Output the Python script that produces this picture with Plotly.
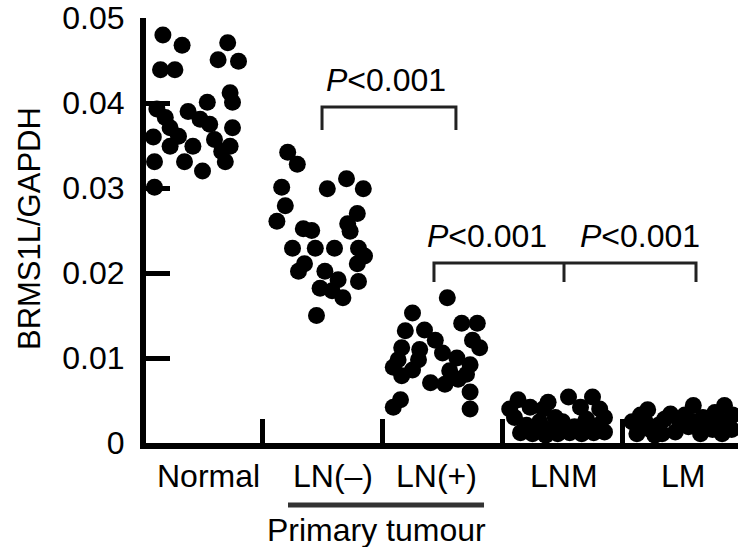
import plotly.graph_objects as go

# ---------------- data ----------------
categories = ["Normal", "LN(–)", "LN(+)", "LNM", "LM"]

normal_vals = [0.0480, 0.0468, 0.0471, 0.0451, 0.0449, 0.0439, 0.0439, 0.0412, 0.0401, 0.0401,
               0.0393, 0.0383, 0.0390, 0.0381, 0.0375, 0.0371, 0.0371, 0.0360, 0.0361, 0.0357,
               0.0349, 0.0349, 0.0349, 0.0343, 0.0331, 0.0331, 0.0320, 0.0331, 0.0301]
normal_jit = [-0.33, -0.17, 0.21, 0.13, 0.30, -0.35, -0.23, 0.23, 0.25, 0.04,
              -0.38, -0.31, -0.12, -0.02, 0.06, 0.25, -0.27, -0.41, -0.20, 0.10,
              -0.27, -0.08, 0.23, 0.16, -0.40, -0.15, 0.00, 0.19, -0.40]

lnneg_vals = [0.0342, 0.0328, 0.0301, 0.0299, 0.0311, 0.0299, 0.0279, 0.0261, 0.0270, 0.0258,
              0.0252, 0.0250, 0.0249, 0.0229, 0.0229, 0.0229, 0.0229, 0.0220, 0.0211, 0.0211,
              0.0202, 0.0202, 0.0192, 0.0190, 0.0182, 0.0179, 0.0171, 0.0150]
lnneg_jit = [-0.29, -0.21, -0.34, 0.04, 0.20, 0.34, -0.31, -0.38, 0.29, 0.21,
             -0.16, -0.09, 0.23, -0.25, -0.06, 0.10, 0.30, 0.35, 0.29, -0.15,
             -0.20, 0.02, 0.13, 0.30, -0.02, 0.08, 0.17, -0.05]

lnpos_vals = [0.0171, 0.0153, 0.0141, 0.0141, 0.0132, 0.0133, 0.0121, 0.0112, 0.0112, 0.0110,
              0.0106, 0.0121, 0.0098, 0.0098, 0.0100, 0.0092, 0.0089, 0.0086, 0.0085, 0.0081,
              0.0079, 0.0071, 0.0069, 0.0075, 0.0060, 0.0051, 0.0042, 0.0040]
lnpos_jit = [0.04, -0.25, 0.16, 0.29, -0.31, -0.15, -0.06, 0.31, -0.34, -0.19,
             0.00, 0.25, -0.37, -0.20, 0.12, 0.23, -0.41, -0.25, 0.06, 0.20,
             -0.34, -0.10, 0.02, 0.13, 0.23, -0.35, -0.41, 0.23]

lnm_vals = [0.0051, 0.0042, 0.0040, 0.0030, 0.0054, 0.0042, 0.0054, 0.0040, 0.0030, 0.0021,
            0.0025, 0.0016, 0.0025, 0.0019, 0.0028, 0.0021, 0.0012, 0.0011, 0.0009, 0.0011,
            0.0012, 0.0011, 0.0012, 0.0013, 0.0040, 0.0048, 0.0025, 0.0030]
lnm_jit = [-0.37, -0.27, -0.16, -0.06, 0.05, 0.15, 0.25, 0.31, -0.40, -0.30,
           -0.19, -0.09, 0.00, 0.10, 0.20, 0.30, -0.35, -0.25, -0.14, -0.04,
           0.06, 0.16, 0.26, 0.35, -0.44, -0.12, 0.19, 0.35]

lm_vals = [0.0025, 0.0033, 0.0039, 0.0021, 0.0034, 0.0025, 0.0044, 0.0030, 0.0036, 0.0044,
           0.0033, 0.0011, 0.0016, 0.0011, 0.0013, 0.0019, 0.0011, 0.0016, 0.0011, 0.0016,
           0.0025, 0.0028, 0.0033, 0.0021, 0.0025, 0.0009, 0.0025, 0.0028]
lm_jit = [-0.42, -0.35, -0.29, -0.20, -0.10, -0.02, 0.09, 0.17, 0.27, 0.35,
          0.42, -0.38, -0.27, -0.17, -0.06, 0.05, 0.15, 0.25, 0.33, 0.41,
          -0.31, -0.15, 0.02, 0.21, 0.38, -0.23, 0.10, 0.30]

group_vals = [normal_vals, lnneg_vals, lnpos_vals, lnm_vals, lm_vals]
group_jit = [normal_jit, lnneg_jit, lnpos_jit, lnm_jit, lm_jit]

y_ticks = [0, 0.01, 0.02, 0.03, 0.04, 0.05]
y_ticklabels = ["0", "0.01", "0.02", "0.03", "0.04", "0.05"]
p_label = "<i>P</i>&lt;0.001"
group_title = "Primary tumour"
y_title = "BRMS1L/GAPDH"

# ---------------- figure ----------------
FONT = "Liberation Sans, Arial, Helvetica, sans-serif"
fig = go.Figure()

for i, (vals, jit) in enumerate(zip(group_vals, group_jit)):
    fig.add_trace(go.Scatter(
        x=[i + j for j in jit], y=vals, mode="markers",
        marker=dict(size=17, color="black", line=dict(width=0)),
        showlegend=False, hoverinfo="skip", cliponaxis=False,
    ))

# significance brackets
line_style = dict(color="#222222", width=3)
brackets = [
    # (x_left, x_right, y_top, y_bottom)
    (0.996, 2.112, 0.03953, 0.03682),
]
for xl, xr, yt, yb in brackets:
    fig.add_shape(type="path", xref="x", yref="y",
                  path=f"M {xl},{yb} L {xl},{yt} L {xr},{yt} L {xr},{yb}",
                  line=line_style)
# double bracket LN(+) - LNM - LM
b2 = (1.929, 3.0125, 4.1125, 0.02118, 0.01894)
fig.add_shape(type="path", xref="x", yref="y",
              path=f"M {b2[0]},{b2[4]} L {b2[0]},{b2[3]} L {b2[2]},{b2[3]} L {b2[2]},{b2[4]}",
              line=line_style)
fig.add_shape(type="line", xref="x", yref="y", x0=b2[1], x1=b2[1], y0=b2[3], y1=b2[4],
              line=line_style)

# P labels
for px_, py_ in [(1.529, 0.0427), (2.367, 0.0244), (3.642, 0.0244)]:
    fig.add_annotation(x=px_, y=py_, xref="x", yref="y", text=p_label, showarrow=False,
                       font=dict(family=FONT, size=32, color="black"),
                       xanchor="center", yanchor="middle")

# category labels
cat_x = [0.046, 1.0875, 1.954, 3.0125, 4.004]
for cx, lab in zip(cat_x, categories):
    fig.add_annotation(x=cx, y=-0.0776, xref="x", yref="paper", text=lab, showarrow=False,
                       font=dict(family=FONT, size=32, color="black"),
                       xanchor="center", yanchor="middle")

# primary tumour underline + label
fig.add_shape(type="line", xref="x", yref="paper", x0=0.7125, x1=2.346, y0=-0.1459, y1=-0.1459,
              line=dict(color="#333333", width=5))
fig.add_annotation(x=1.454, y=-0.2047, xref="x", yref="paper", text=group_title, showarrow=False,
                   font=dict(family=FONT, size=32, color="black"),
                   xanchor="center", yanchor="middle")

# y title
fig.add_annotation(x=-0.1976, y=0.5035, xref="paper", yref="paper", text=y_title, showarrow=False,
                   textangle=-90, font=dict(family=FONT, size=31, color="black"),
                   xanchor="center", yanchor="middle")

fig.update_layout(
    width=738, height=547,
    margin=dict(l=146, r=0, t=18, b=104, pad=0),
    paper_bgcolor="white", plot_bgcolor="white",
    font=dict(family=FONT, size=32, color="black"),
    xaxis=dict(range=[-0.4708, 4.4625], showgrid=False, zeroline=False,
               showline=True, linecolor="black", linewidth=6,
               tickmode="array", tickvals=[0.5, 1.5, 2.5, 3.5], ticktext=["", "", "", ""],
               ticks="inside", ticklen=24, tickwidth=5, tickcolor="black",
               showticklabels=False, fixedrange=True),
    yaxis=dict(range=[0, 0.05], showgrid=False, zeroline=False,
               showline=True, linecolor="black", linewidth=6,
               tickmode="array", tickvals=y_ticks, ticktext=y_ticklabels,
               ticks="inside", ticklen=24, tickwidth=5, tickcolor="black",
               tickfont=dict(family=FONT, size=32, color="black"),
               ticklabelstandoff=9, automargin=False,
               fixedrange=True),
)

fig.write_html("out.html", config={"displayModeBar": False, "staticPlot": True},
               post_script="document.body.style.margin='0';document.body.style.padding='0';")
